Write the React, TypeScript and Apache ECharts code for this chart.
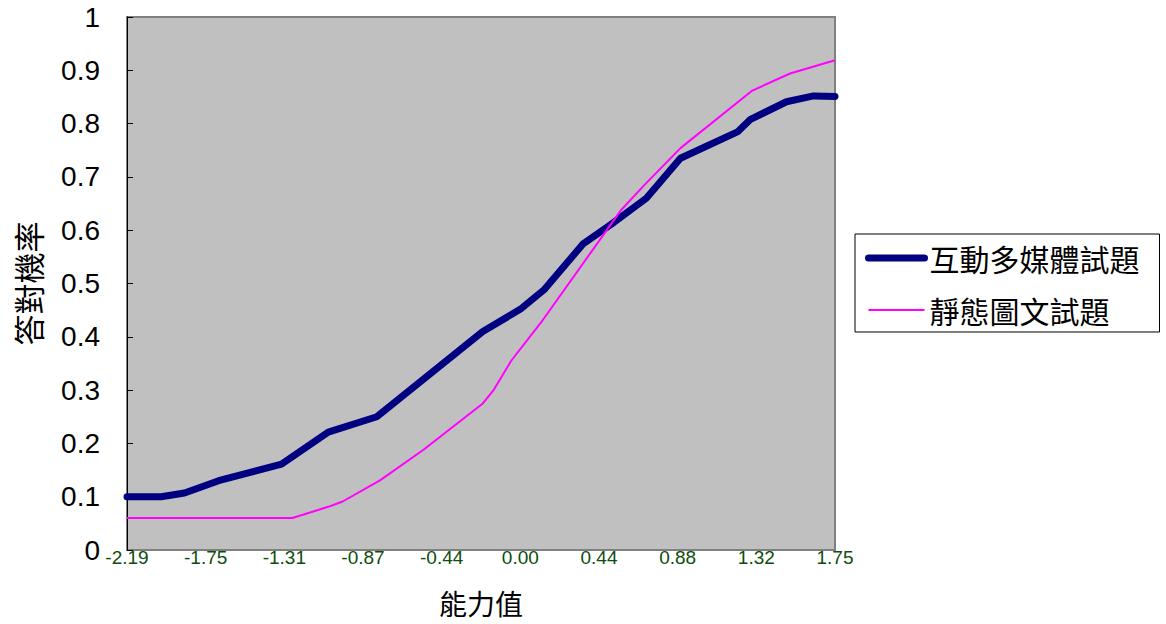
import React, { useEffect, useRef } from "react";
import * as echarts from "echarts";

// Ability (theta) tick labels shown on the x axis
const xTickLabels = ["-2.19", "-1.75", "-1.31", "-0.87", "-0.44", "0.00", "0.44", "0.88", "1.32", "1.75"];
const X_MIN = -2.19;
const X_MAX = 1.75;

// 互動多媒體試題 : [ability, probability]
const multimediaTheta = [-2.19, -2.0, -1.87, -1.68, -1.33, -1.07, -0.8, -0.21, 0.0, 0.13, 0.35, 0.5, 0.7, 0.89, 1.21, 1.28, 1.48, 1.63, 1.75];
const multimediaProb = [0.1, 0.1, 0.107, 0.13, 0.161, 0.221, 0.25, 0.41, 0.452, 0.488, 0.575, 0.61, 0.66, 0.735, 0.785, 0.808, 0.841, 0.852, 0.851];

// 靜態圖文試題
const staticTheta = [-2.19, -1.27, -1.07, -0.99, -0.78, -0.54, -0.21, -0.15, -0.05, 0.11, 0.56, 0.69, 0.89, 1.29, 1.5, 1.75];
const staticProb = [0.06, 0.06, 0.081, 0.091, 0.131, 0.188, 0.275, 0.3, 0.356, 0.425, 0.638, 0.685, 0.754, 0.862, 0.894, 0.919];

const seriesNames = ["互動多媒體試題", "靜態圖文試題"];

const LATIN = "'Liberation Sans', Arial, sans-serif";
const CJK = "'Noto Sans CJK TC', 'Liberation Sans', sans-serif";

export default function App() {
  const ref = useRef<HTMLDivElement>(null);

  useEffect(() => {
    if (!ref.current) return;
    const chart = echarts.init(ref.current, undefined, { renderer: "svg" });
    const step = (X_MAX - X_MIN) / (xTickLabels.length - 1);
    const pair = (xs: number[], ys: number[]) => xs.map((x, i) => [x, ys[i]]);

    chart.setOption({
      animation: false,
      backgroundColor: "#ffffff",
      grid: {
        left: 127,
        right: 331,
        top: 17,
        bottom: 74,
        show: true,
        backgroundColor: "#c0c0c0",
        borderColor: "#808080",
        borderWidth: 2,
      },
      legend: {
        orient: "vertical",
        left: 855,
        top: 234,
        padding: [9, 20, 7, 10],
        itemGap: 22,
        itemWidth: 56,
        itemHeight: 14,
        backgroundColor: "#ffffff",
        borderColor: "#000000",
        borderWidth: 1,
        borderRadius: 0,
        textStyle: { fontFamily: CJK, fontSize: 30, color: "#000000" },
        data: [
          { name: seriesNames[0], itemStyle: { opacity: 0 }, lineStyle: { width: 7, cap: "round" } },
          { name: seriesNames[1], itemStyle: { opacity: 0 }, lineStyle: { width: 2 } },
        ],
      },
      xAxis: {
        type: "value",
        min: X_MIN,
        max: X_MAX,
        interval: step,
        name: "能力值",
        nameLocation: "middle",
        nameGap: 39,
        nameTextStyle: { fontFamily: CJK, fontSize: 28, color: "#000000" },
        axisLine: { show: false, onZero: false },
        axisTick: { show: false },
        splitLine: { show: false },
        axisLabel: {
          margin: -2,
          fontFamily: LATIN,
          fontSize: 19,
          color: "#0d4d0d",
          showMinLabel: true,
          showMaxLabel: true,
          formatter: (v: number) => {
            const i = Math.round((v - X_MIN) / step);
            return xTickLabels[i] ?? "";
          },
        },
      },
      yAxis: {
        type: "value",
        min: 0,
        max: 1,
        interval: 0.1,
        name: "答對機率",
        nameLocation: "middle",
        nameRotate: 90,
        nameGap: 84,
        nameTextStyle: { fontFamily: CJK, fontSize: 31, color: "#000000" },
        axisLine: { show: true, onZero: false, lineStyle: { color: "#000000", width: 1 } },
        axisTick: { show: true, inside: true, length: 6, lineStyle: { color: "#000000" } },
        splitLine: { show: false },
        axisLabel: {
          margin: 27,
          fontFamily: LATIN,
          fontSize: 28,
          color: "#000000",
          formatter: (v: number) => String(Math.round(v * 10) / 10),
        },
      },
      series: [
        {
          name: seriesNames[0],
          type: "line",
          data: pair(multimediaTheta, multimediaProb),
          symbol: "none",
          lineStyle: { color: "#000080", width: 7, join: "round", cap: "round" },
          itemStyle: { color: "#000080" },
          z: 3,
        },
        {
          name: seriesNames[1],
          type: "line",
          data: pair(staticTheta, staticProb),
          symbol: "none",
          lineStyle: { color: "#ff00ff", width: 2, join: "round" },
          itemStyle: { color: "#ff00ff" },
          z: 4,
        },
      ],
    });
    return () => chart.dispose();
  }, []);

  return (
    <div
      ref={ref}
      style={{ position: "fixed", left: 0, top: 0, width: 1166, height: 624, background: "#ffffff" }}
    />
  );
}
